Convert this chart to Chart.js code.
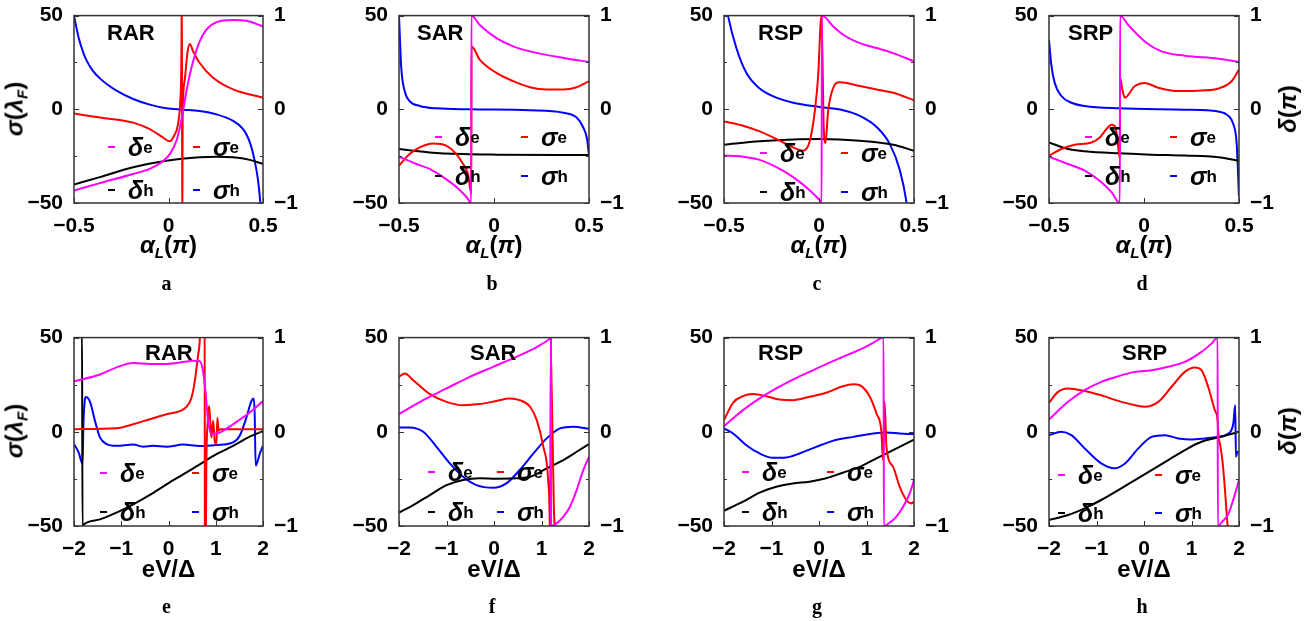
<!DOCTYPE html>
<html>
<head>
<meta charset="utf-8">
<script src="https://cdn.jsdelivr.net/npm/chart.js@4.4.1/dist/chart.umd.min.js"></script>
<style>
  body { margin: 0; width: 1314px; height: 621px; background: #fff; position: relative; overflow: hidden;
         font-family: "Liberation Sans", Arial, sans-serif; color: #000; }
  canvas { position: absolute; }
  .lbl { position: absolute; white-space: nowrap; font-weight: bold; line-height: 1; }
  .name { font-size: 22px; transform: translateY(-50%); }
  .leg { display: flex; align-items: center; height: 30px; font-size: 25px; }
  .leg .dash { display: inline-block; width: 7px; height: 2px; margin-right: 13px; }
  .leg i { font-style: italic; }
  .leg sub { font-size: 17px; font-style: normal; vertical-align: -8px; }
  .axt { font-size: 24px; transform: translate(-50%, -50%); }
  .axt sub { font-size: 15px; vertical-align: -5px; }
  .rot { transform: translate(-50%, -50%) rotate(-90deg); }
  .letter { font-family: "Liberation Serif", "DejaVu Serif", serif; font-size: 20px; transform: translateX(-50%); }
</style>
</head>
<body>
<script>
// curves: sigma on the left axis (lambda_F), delta on the right axis (pi)
// panel a: RAR vs alpha_L
const aDeltaE = [[-0.5,-0.866],[-0.363,-0.788],[-0.187,-0.69],[-0.099,-0.636],[-0.03,-0.554],[0.007,-0.478],[0.042,-0.336],[0.06,-0.194],[0.077,-0.018],[0.095,0.194],[0.121,0.44],[0.165,0.724],[0.2,0.848],[0.254,0.93],[0.342,0.954],[0.412,0.944],[0.5,0.884]];
const aSigmaE = [[-0.5,-2.3],[-0.363,-4.4],[-0.187,-7.1],[-0.099,-10.6],[-0.03,-15],[0.007,-17.1],[0.03,-14],[0.05,-8],[0.062,4],[0.068,25],[0.071,70],[0.0725,-70],[0.075,-5],[0.085,15],[0.1,30],[0.113,34.8],[0.13,31],[0.165,24.7],[0.236,16.8],[0.342,10.6],[0.5,6.2]];
const aDeltaH = [[-0.5,-0.802],[-0.363,-0.724],[-0.187,-0.618],[-0.011,-0.548],[0.165,-0.512],[0.254,-0.506],[0.342,-0.512],[0.43,-0.54],[0.5,-0.584]];
const aSigmaH = [[-0.5,50],[-0.475,38],[-0.45,30],[-0.433,26],[-0.4,20.5],[-0.363,16.5],[-0.32,13],[-0.275,10],[-0.187,5.5],[-0.099,2.5],[-0.011,0.5],[0.077,-0.2],[0.165,-0.9],[0.254,-2.7],[0.342,-6.2],[0.39,-10],[0.412,-13.3],[0.435,-19],[0.455,-27],[0.474,-38],[0.486,-50],[0.49,-56]];

// panel b: SAR vs alpha_L
const bDeltaE = [[-0.5,-0.506],[-0.409,-0.584],[-0.339,-0.636],[-0.268,-0.724],[-0.198,-0.83],[-0.145,-0.936],[-0.12,-1],[-0.119,1],[-0.075,0.9],[0.013,0.76],[0.101,0.672],[0.189,0.618],[0.365,0.548],[0.5,0.506]];
const bSigmaE = [[-0.5,-30],[-0.444,-23.9],[-0.391,-20.3],[-0.321,-18.2],[-0.251,-19.4],[-0.198,-23.9],[-0.163,-29.2],[-0.137,-34.5],[-0.1195,-45],[-0.1185,33.6],[-0.075,26.5],[0.013,19.4],[0.101,15],[0.189,11.8],[0.277,10.6],[0.365,10.6],[0.435,11.8],[0.5,15]];
const bDeltaH = [[-0.5,-0.424],[-0.339,-0.46],[-0.163,-0.478],[0.013,-0.484],[0.5,-0.488]];
const bSigmaH = [[-0.5,50],[-0.494,35],[-0.488,22],[-0.47,9.7],[-0.444,4.4],[-0.391,1.8],[-0.303,0.5],[-0.127,0],[0.189,-0.5],[0.365,-1.8],[0.435,-4.4],[0.47,-9.7],[0.49,-16],[0.5,-24.7]];

// panel c: RSP vs alpha_L
const cDeltaE = [[-0.5,-0.494],[-0.4,-0.506],[-0.312,-0.54],[-0.224,-0.618],[-0.136,-0.724],[-0.048,-0.866],[0.004,-0.972],[0.014,-1],[0.015,1],[0.075,0.884],[0.127,0.796],[0.215,0.706],[0.303,0.654],[0.391,0.6],[0.5,0.512]];
const cSigmaE = [[-0.5,-6.5],[-0.4,-8.8],[-0.312,-11.8],[-0.224,-15.9],[-0.136,-20.3],[-0.083,-22.1],[-0.048,-16.8],[-0.022,-0.9],[-0.004,18.6],[0.008,45],[0.013,50],[0.025,-10],[0.034,-18],[0.048,-1],[0.075,11.5],[0.11,14.5],[0.215,12.4],[0.303,10.6],[0.391,8.8],[0.5,4.8]];
const cDeltaH = [[-0.5,-0.378],[-0.312,-0.342],[-0.136,-0.322],[0.004,-0.318],[0.215,-0.336],[0.391,-0.378],[0.5,-0.442]];
const cSigmaH = [[-0.5,62],[-0.479,50],[-0.435,32.7],[-0.382,19.4],[-0.312,11.1],[-0.224,6.2],[-0.136,3.5],[0.004,1.2],[0.127,-0.5],[0.215,-3.5],[0.303,-9.4],[0.373,-18.6],[0.426,-32.7],[0.461,-50],[0.47,-58]];

// panel d: SRP vs alpha_L
const dDeltaE = [[-0.5,-0.506],[-0.4,-0.584],[-0.312,-0.654],[-0.224,-0.778],[-0.171,-0.884],[-0.127,-1],[-0.126,1],[-0.083,0.9],[0.004,0.724],[0.092,0.618],[0.215,0.572],[0.391,0.54],[0.5,0.506]];
const dSigmaE = [[-0.5,-24.7],[-0.435,-21.2],[-0.365,-18.9],[-0.277,-17.7],[-0.233,-15],[-0.198,-10.6],[-0.171,-8.3],[-0.15,-9.7],[-0.138,-18],[-0.1275,-26],[-0.1255,17],[-0.115,11],[-0.101,6.2],[-0.048,12.4],[0.004,14.1],[0.075,11.5],[0.18,9.7],[0.303,10],[0.391,11.1],[0.461,15],[0.5,21.2]];
const dDeltaH = [[-0.5,-0.354],[-0.4,-0.424],[-0.312,-0.448],[-0.136,-0.47],[0.04,-0.484],[0.215,-0.494],[0.391,-0.512],[0.5,-0.548]];
const dSigmaH = [[-0.5,37.1],[-0.488,23.9],[-0.47,14.1],[-0.435,7.1],[-0.382,3.5],[-0.312,1.8],[-0.136,0.5],[0.215,-0.2],[0.391,-1.2],[0.444,-3.5],[0.47,-7.9],[0.488,-18.6],[0.5,-46.8]];

// panel e: RAR vs eV/Delta
const eDeltaE = [[-2,0.536],[-1.45,0.608],[-1.1,0.684],[-0.746,0.73],[-0.394,0.72],[-0.042,0.72],[0.31,0.74],[0.52,0.754],[0.662,0.748],[0.732,0.642],[0.789,0.396],[0.838,0.116],[0.908,-0.024],[1.085,-0.008],[1.366,0.08],[1.718,0.204],[2,0.326]];
const eSigmaE = [[-2,1.4],[-1.1,1.9],[-0.746,4],[-0.394,6.7],[-0.042,9.3],[0.239,11],[0.38,13.2],[0.486,18.1],[0.556,26.8],[0.627,40.9],[0.662,48.8],[0.7,80],[0.765,80],[0.77,-80],[0.785,-80],[0.8,-20],[0.83,5],[0.859,13.7],[0.885,5],[0.908,-3],[0.945,5.8],[0.979,-5],[1.014,-6.5],[1.035,7.5],[1.06,0.5],[1.1,1.4],[2,1.4]];
const eDeltaH = [[-2,1.02],[-1.83,1.01],[-1.82,-1],[-1.81,-0.99],[-1.45,-0.93],[-1.1,-0.858],[-0.746,-0.77],[-0.394,-0.67],[-0.042,-0.558],[0.31,-0.452],[0.662,-0.346],[1.014,-0.238],[1.366,-0.15],[1.718,-0.052],[2,0.008]];
const eSigmaH = [[-2,-6.6],[-1.9,-11],[-1.82,-17],[-1.8,5],[-1.77,17],[-1.75,18.5],[-1.662,16],[-1.556,5.8],[-1.45,-3],[-1.31,-6.5],[-1.1,-7.4],[-0.746,-6.8],[-0.535,-7.9],[-0.324,-7.4],[-0.042,-7.9],[0.31,-6.8],[0.662,-7.5],[1.014,-7],[1.366,-5.6],[1.507,-2.1],[1.648,7.5],[1.754,16.3],[1.803,17.7],[1.824,9.3],[1.845,-17.9],[1.93,-11.8],[2,-7.4]];

// panel f: SAR vs eV/Delta
const fDeltaE = [[-2,0.188],[-1.49,0.336],[-1,0.46],[-0.51,0.584],[-0.018,0.69],[0.47,0.796],[0.9,0.9],[1.18,0.99],[1.2,1],[1.201,-1],[1.32,-0.972],[1.46,-0.9],[1.6,-0.796],[1.74,-0.618],[1.88,-0.406],[2,-0.266]];
const fSigmaE = [[-2,29.2],[-1.88,30.9],[-1.7,27.4],[-1.35,20],[-1,15.9],[-0.65,14.1],[-0.3,14.7],[0.05,16.4],[0.33,17.7],[0.54,16.8],[0.76,13.3],[0.9,6.2],[1.04,-8],[1.14,-25.6],[1.175,-52],[1.185,-90],[1.19,42],[1.205,35],[1.26,-40],[1.29,-55],[1.35,-75],[2,-90]];
const fDeltaH = [[-2,-0.858],[-1.7,-0.778],[-1.35,-0.672],[-1,-0.566],[-0.65,-0.512],[-0.3,-0.494],[0.05,-0.498],[0.47,-0.494],[0.76,-0.478],[1.11,-0.388],[1.46,-0.3],[1.74,-0.212],[2,-0.13]];
const fSigmaH = [[-2,2.3],[-1.78,2.3],[-1.49,0],[-1.21,-8],[-0.93,-16.8],[-0.65,-23.9],[-0.37,-28.3],[-0.018,-29.7],[0.26,-27.4],[0.54,-20.3],[0.83,-11.5],[1.11,-3.5],[1.39,1.8],[1.67,2.7],[2,1.6]];

// panel g: RSP vs eV/Delta
const gDeltaE = [[-2,0.06],[-1.6,0.23],[-1.25,0.354],[-0.9,0.46],[-0.55,0.554],[-0.2,0.636],[0.15,0.718],[0.5,0.796],[0.86,0.872],[1.14,0.944],[1.36,1],[1.365,-1],[1.49,-0.964],[1.63,-0.9],[1.77,-0.796],[1.91,-0.654],[2,-0.512]];
const gSigmaE = [[-2,6.2],[-1.81,15.4],[-1.6,18.9],[-1.39,20],[-1.11,18.9],[-0.83,17.1],[-0.55,16.8],[-0.2,18.6],[0.15,20.7],[0.5,24.2],[0.72,25.3],[0.86,24.7],[1.07,18.6],[1.21,9.7],[1.31,0.9],[1.35,-15],[1.38,15.9],[1.42,-8],[1.56,-18.6],[1.7,-29.2],[1.84,-36.2],[1.94,-38],[2,-37.1]];
const gDeltaH = [[-2,-0.838],[-1.6,-0.742],[-1.25,-0.646],[-0.9,-0.584],[-0.55,-0.548],[-0.2,-0.53],[0.15,-0.494],[0.5,-0.434],[0.86,-0.372],[1.21,-0.282],[1.56,-0.194],[2,-0.082]];
const gSigmaH = [[-2,1.8],[-1.81,-0.9],[-1.53,-7.1],[-1.25,-11.5],[-0.97,-13.8],[-0.69,-13.6],[-0.41,-11.5],[-0.06,-8],[0.29,-4.8],[0.72,-2.7],[1.14,-0.9],[1.42,-0.4],[1.7,-0.9],[2,-1.2]];

// panel h: SRP vs eV/Delta
const hDeltaE = [[-2,0.13],[-1.6,0.318],[-1.25,0.442],[-0.9,0.53],[-0.54,0.59],[-0.19,0.636],[0.16,0.654],[0.51,0.69],[0.86,0.742],[1.21,0.848],[1.42,0.936],[1.55,1],[1.555,-1],[1.63,-0.964],[1.78,-0.866],[1.92,-0.654],[2,-0.512]];
const hSigmaE = [[-2,15.4],[-1.81,21.2],[-1.6,23],[-1.25,21.7],[-0.9,19.4],[-0.54,16.4],[-0.19,14.1],[0.02,13.3],[0.3,15.9],[0.58,23.9],[0.86,31.8],[1.07,34.1],[1.21,32.7],[1.35,23.9],[1.49,11.5],[1.55,6.2],[1.57,-2.7],[1.6,-6.5],[1.65,-15],[1.7,-29.2],[1.76,-50],[1.8,-62]];
const hDeltaH = [[-2,-0.936],[-1.6,-0.884],[-1.25,-0.812],[-0.9,-0.724],[-0.54,-0.618],[-0.19,-0.512],[0.16,-0.406],[0.51,-0.3],[0.86,-0.194],[1.21,-0.106],[1.56,-0.06],[2,0]];
const hSigmaH = [[-2,-1.8],[-1.74,0],[-1.53,-1.8],[-1.25,-8.8],[-0.9,-16.8],[-0.62,-19.4],[-0.4,-16.8],[-0.12,-8.8],[0.16,-2.7],[0.44,-1.8],[0.72,-3.5],[1,-4.1],[1.28,-3.5],[1.56,-2.7],[1.78,-0.9],[1.88,4.4],[1.92,14.1],[1.935,-13.3],[1.97,-10.6],[2,-10.6]];

// axes
const alphaTicks = [-0.5, 0, 0.5];
const voltTicks = [-2, -1, 0, 1, 2];
const sigmaTicks = [-50, -25, 0, 25, 50];
const sigmaLabels = [-50, 0, 50];
const deltaTicks = [-1, -0.5, 0, 0.5, 1];
const deltaLabels = [-1, 0, 1];

const alphaTitle = '<i>α</i><sub><i>L</i></sub>(<i>π</i>)';
const voltTitle = 'eV/Δ';

// panel layout: plot box in page pixels, label offsets inside the plot
const panels = [
  { letter: 'a', name: 'RAR', box: [74, 14, 189, 189], nameAt: [33, 19], leg: [34, 119, 133, 176], ticks: alphaTicks, title: alphaTitle, data: [aDeltaE, aSigmaE, aDeltaH, aSigmaH] },
  { letter: 'b', name: 'SAR', box: [399, 14, 190, 189], nameAt: [18, 19], leg: [36, 122, 123, 162], ticks: alphaTicks, title: alphaTitle, data: [bDeltaE, bSigmaE, bDeltaH, bSigmaH] },
  { letter: 'c', name: 'RSP', box: [724, 14, 190, 189], nameAt: [34, 19], leg: [36, 117, 139, 178], ticks: alphaTicks, title: alphaTitle, data: [cDeltaE, cSigmaE, cDeltaH, cSigmaH] },
  { letter: 'd', name: 'SRP', box: [1049, 14, 190, 189], nameAt: [19, 19], leg: [36, 121, 123, 162], ticks: alphaTicks, title: alphaTitle, data: [dDeltaE, dSigmaE, dDeltaH, dSigmaH] },
  { letter: 'e', name: 'RAR', box: [74, 336, 189, 190], nameAt: [71, 17], leg: [26, 118, 137, 176], ticks: voltTicks, title: voltTitle, data: [eDeltaE, eSigmaE, eDeltaH, eSigmaH] },
  { letter: 'f', name: 'SAR', box: [399, 336, 190, 190], nameAt: [71, 17], leg: [29, 98, 136, 176], ticks: voltTicks, title: voltTitle, data: [fDeltaE, fSigmaE, fDeltaH, fSigmaH] },
  { letter: 'g', name: 'RSP', box: [724, 336, 190, 190], nameAt: [34, 17], leg: [18, 103, 136, 176], ticks: voltTicks, title: voltTitle, data: [gDeltaE, gSigmaE, gDeltaH, gSigmaH] },
  { letter: 'h', name: 'SRP', box: [1049, 336, 190, 190], nameAt: [73, 17], leg: [9, 106, 139, 177], ticks: voltTicks, title: voltTitle, data: [hDeltaE, hSigmaE, hDeltaH, hSigmaH] }
];

const series = [
  { sym: 'δ', sub: 'e', color: '#ff00ff', axis: 'yR' },
  { sym: 'σ', sub: 'e', color: '#ff0000', axis: 'y' },
  { sym: 'δ', sub: 'h', color: '#000000', axis: 'yR' },
  { sym: 'σ', sub: 'h', color: '#0000ff', axis: 'y' }
];

const PAD_L = 55, PAD_R = 55, PAD_T = 14, PAD_B = 40;
const tickFont = { family: 'Liberation Sans', weight: 'bold', size: 21 };
const fmt = v => (v < 0 ? '\u2212' + Math.abs(v) : String(v));

// inner frame and inward tick marks
const frameTicks = {
  id: 'frameTicks',
  afterDraw(chart) {
    const { ctx, chartArea: a, scales } = chart;
    ctx.save();
    ctx.strokeStyle = '#333';
    ctx.lineWidth = 1;
    ctx.beginPath();
    scales.x.ticks.forEach(t => {
      const p = Math.round(scales.x.getPixelForValue(t.value)) + 0.5;
      ctx.moveTo(p, a.bottom);
      ctx.lineTo(p, a.bottom - 5);
    });
    scales.y.ticks.forEach(t => {
      const p = Math.round(scales.y.getPixelForValue(t.value)) + 0.5;
      ctx.moveTo(a.left, p);
      ctx.lineTo(a.left + (t.label ? 5 : 3), p);
    });
    scales.yR.ticks.forEach(t => {
      const p = Math.round(scales.yR.getPixelForValue(t.value)) + 0.5;
      ctx.moveTo(a.right, p);
      ctx.lineTo(a.right - (t.label ? 5 : 3), p);
    });
    ctx.stroke();
    ctx.lineWidth = 1.5;
    ctx.strokeRect(a.left, a.top, a.width, a.height);
    ctx.restore();
  }
};

function addText(html, cls, left, top) {
  const d = document.createElement('div');
  d.className = 'lbl ' + cls;
  d.style.left = left + 'px';
  d.style.top = top + 'px';
  d.innerHTML = html;
  document.body.appendChild(d);
  return d;
}

panels.forEach((p, i) => {
  const [L, T, W, H] = p.box;
  const canvas = document.createElement('canvas');
  canvas.width = W + PAD_L + PAD_R;
  canvas.height = H + PAD_T + PAD_B;
  canvas.style.left = (L - PAD_L) + 'px';
  canvas.style.top = (T - PAD_T) + 'px';
  document.body.appendChild(canvas);

  const xMin = p.ticks[0], xMax = p.ticks[p.ticks.length - 1];

  new Chart(canvas, {
    type: 'line',
    data: {
      datasets: series.map((s, k) => ({
        label: s.sym + s.sub,
        data: p.data[k].map(([x, y]) => ({ x, y })),
        yAxisID: s.axis,
        borderColor: s.color,
        borderWidth: 2,
        pointRadius: 0,
        fill: false,
        cubicInterpolationMode: 'monotone'
      }))
    },
    options: {
      responsive: false,
      animation: false,
      devicePixelRatio: 1,
      layout: { padding: { top: PAD_T, left: 0, right: 0, bottom: 0 } },
      plugins: { legend: { display: false }, tooltip: { enabled: false } },
      scales: {
        x: {
          type: 'linear', min: xMin, max: xMax,
          grid: { display: false }, border: { display: false },
          afterBuildTicks: s => { s.ticks = p.ticks.map(v => ({ value: v })); },
          afterFit: s => { s.height = PAD_B; },
          ticks: { font: tickFont, color: '#000', padding: 3, maxRotation: 0, autoSkip: false, callback: fmt }
        },
        y: {
          position: 'left', min: -50, max: 50,
          grid: { display: false }, border: { display: false },
          afterBuildTicks: s => { s.ticks = sigmaTicks.map(v => ({ value: v })); },
          afterFit: s => { s.width = PAD_L; },
          ticks: { font: tickFont, color: '#000', padding: 3, autoSkip: false,
                   callback: v => (sigmaLabels.includes(v) ? fmt(v) : '') }
        },
        yR: {
          position: 'right', min: -1, max: 1,
          grid: { display: false }, border: { display: false },
          afterBuildTicks: s => { s.ticks = deltaTicks.map(v => ({ value: v })); },
          afterFit: s => { s.width = PAD_R; },
          ticks: { font: tickFont, color: '#000', padding: 3, autoSkip: false,
                   callback: v => (deltaLabels.includes(v) ? fmt(v) : '') }
        }
      }
    },
    plugins: [frameTicks]
  });

  // curve set name
  addText(p.name, 'name', L + p.nameAt[0], T + p.nameAt[1]);

  // 2x2 legend inside the plot
  const [c1, c2, r1, r2] = p.leg;
  const spots = [[c1, r1], [c2, r1], [c1, r2], [c2, r2]];
  series.forEach((s, k) => {
    addText('<span class="dash" style="background:' + s.color + '"></span><i>' + s.sym + '</i><sub>' + s.sub + '</sub>',
      'leg', L + spots[k][0], T + spots[k][1] - 15);
  });

  // x axis title and panel letter
  addText(p.title, 'axt', L + W / 2, T + H + 43);
  addText(p.letter, 'letter', L + W / 2 - 2, T + H + 70);

  // y axis titles on the outer panels
  if (i % 4 === 0) addText('<i>σ</i>(<i>λ</i><sub><i>F</i></sub>)', 'axt rot', 16, T + H / 2);
  if (i % 4 === 3) addText('<i>δ</i>(<i>π</i>)', 'axt rot', 1288, T + H / 2);
});
</script>
</body>
</html>
